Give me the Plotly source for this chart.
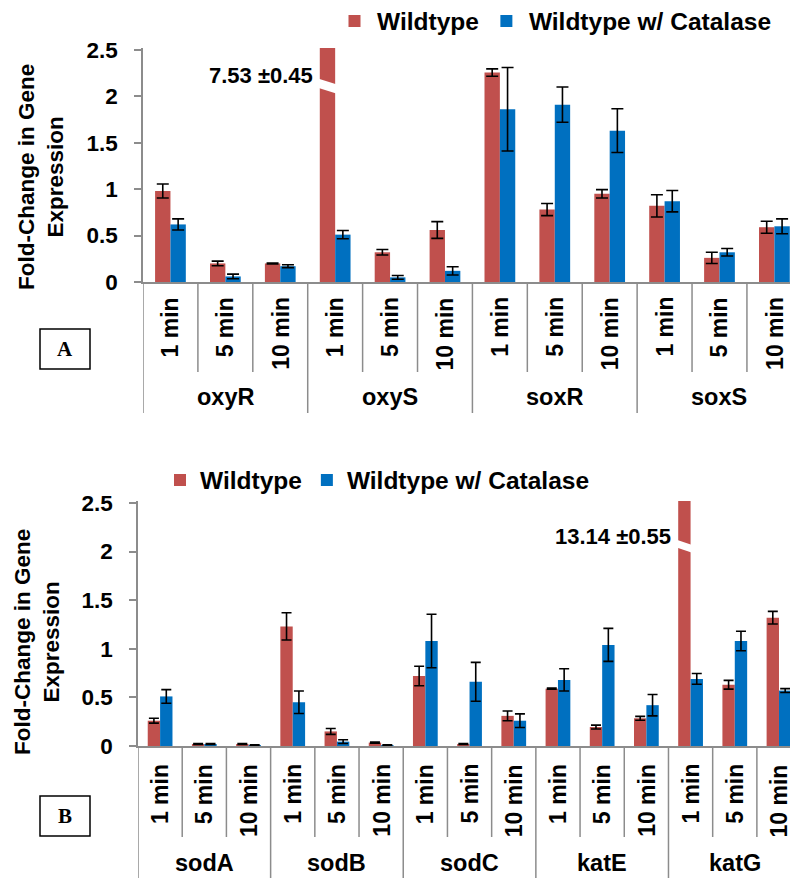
import plotly.graph_objects as go

# ---------------- data ----------------
times = ["1 min", "5 min", "10 min"]
tick_vals = [0, 0.5, 1, 1.5, 2, 2.5]
tick_text = ["0", "0.5", "1", "1.5", "2", "2.5"]

genes_A = ["oxyR", "oxyS", "soxR", "soxS"]
wt_A = [0.98, 0.20, 0.20, 7.53, 0.32, 0.56, 2.255, 0.78, 0.95, 0.82, 0.26, 0.59]
wt_A_err = [0.075, 0.025, 0.005, 0.45, 0.03, 0.09, 0.04, 0.065, 0.045, 0.12, 0.06, 0.065]
cat_A = [0.62, 0.06, 0.17, 0.51, 0.05, 0.12, 1.86, 1.91, 1.63, 0.87, 0.32, 0.60]
cat_A_err = [0.06, 0.025, 0.015, 0.045, 0.02, 0.045, 0.45, 0.19, 0.235, 0.115, 0.04, 0.08]

genes_B = ["sodA", "sodB", "sodC", "katE", "katG"]
wt_B = [0.26, 0.02, 0.02, 1.23, 0.15, 0.035, 0.72, 0.02, 0.31, 0.59, 0.195, 0.285, 13.14, 0.63, 1.32]
wt_B_err = [0.025, 0.005, 0.005, 0.14, 0.03, 0.005, 0.10, 0.005, 0.05, 0.005, 0.02, 0.02, 0.55, 0.045, 0.065]
cat_B = [0.51, 0.02, 0.01, 0.45, 0.045, 0.01, 1.08, 0.66, 0.26, 0.68, 1.04, 0.42, 0.69, 1.08, 0.57]
cat_B_err = [0.07, 0.005, 0.003, 0.115, 0.02, 0.003, 0.275, 0.20, 0.07, 0.115, 0.17, 0.11, 0.055, 0.10, 0.02]

broken_A = {"index": 3, "label": "7.53 ±0.45"}
broken_B = {"index": 12, "label": "13.14 ±0.55"}

series_names = ["Wildtype", "Wildtype w/ Catalase"]
RED = "#C0504D"
BLUE = "#0070C0"
GRAY = "#8C8C8C"
FONT = "Liberation Sans, Arial, sans-serif"

# the page body has an 8px margin, so the figure is drawn 8px in from the window corner
OFF = 8
W, H = 798 - OFF, 878 - OFF


def py(p):
    """window pixel row -> paper y"""
    return 1 - (p - OFF) / H


def px(p):
    """window pixel column -> paper x"""
    return (p - OFF) / W


fig = go.Figure()

panels = [
    dict(genes=genes_A, wt=wt_A, wte=wt_A_err, cat=cat_A, cate=cat_A_err, xa="x", ya="y",
         leg="legend", capw=6, broken=broken_A),
    dict(genes=genes_B, wt=wt_B, wte=wt_B_err, cat=cat_B, cate=cat_B_err, xa="x2", ya="y2",
         leg="legend2", capw=5, broken=broken_B),
]

for p in panels:
    idx = list(range(len(p["wt"])))
    fig.add_trace(go.Bar(
        x=idx, y=p["wt"], name=series_names[0], marker=dict(color=RED, line=dict(width=0)),
        error_y=dict(type="data", array=p["wte"], color="black", thickness=1.6, width=p["capw"]),
        xaxis=p["xa"], yaxis=p["ya"], legend=p["leg"]))
    fig.add_trace(go.Bar(
        x=idx, y=p["cat"], name=series_names[1], marker=dict(color=BLUE, line=dict(width=0)),
        error_y=dict(type="data", array=p["cate"], color="black", thickness=1.6, width=p["capw"]),
        xaxis=p["xa"], yaxis=p["ya"], legend=p["leg"]))

common_y = dict(range=[0, 2.52], tickvals=tick_vals, ticktext=tick_text, ticks="outside",
                ticklen=7, tickcolor=GRAY, tickwidth=1.5, showline=True, linecolor=GRAY,
                linewidth=1.5, showgrid=False, zeroline=False, ticklabelstandoff=12,
                tickfont=dict(family=FONT, size=22.5, color="black", weight="bold"))
common_x = dict(showticklabels=False, ticks="", showline=True, linecolor=GRAY, linewidth=1.5,
                showgrid=False, zeroline=False)

leg_font = dict(family=FONT, size=24.5, color="black", weight="bold")

fig.update_layout(
    width=W, height=H, margin=dict(l=0, r=0, t=0, b=0, autoexpand=False),
    paper_bgcolor="white", plot_bgcolor="white",
    barmode="group", bargap=0.44, bargroupgap=0,
    xaxis=dict(domain=[px(143), 1], range=[-0.5, 11.43], **common_x),
    yaxis=dict(domain=[py(282), py(48)], **common_y),
    xaxis2=dict(domain=[px(138), 1], range=[-0.5, 14.43], anchor="y2", **common_x),
    yaxis2=dict(domain=[py(746), py(501)], anchor="x2", **common_y),
    legend=dict(orientation="h", x=px(332), xanchor="left", y=py(21), yanchor="middle",
                font=leg_font, itemwidth=35, bgcolor="rgba(0,0,0,0)", itemclick=False),
    legend2=dict(orientation="h", x=px(160), xanchor="left", y=py(480), yanchor="middle",
                 font=leg_font, itemwidth=30, bgcolor="rgba(0,0,0,0)", itemclick=False),
    showlegend=True,
)

shapes = []
annotations = []

label_cfg = [
    dict(xa="x", n=len(wt_A), xmax=11.43, axis_y=282, inner_end=372, group_end=413,
         time_top=295, gene_y=397, title_x=41, title_y=177, box=(40, 329, 90, 369), letter="A"),
    dict(xa="x2", n=len(wt_B), xmax=14.43, axis_y=746, inner_end=837, group_end=878,
         time_top=762, gene_y=863, title_x=37, title_y=642, box=(40, 796, 90, 836), letter="B"),
]

for p, c in zip(panels, label_cfg):
    # category divider lines
    for i in range(c["n"] + 1):
        b = i - 0.5
        if b > c["xmax"]:
            continue
        end = c["group_end"] if i % 3 == 0 else c["inner_end"]
        shapes.append(dict(type="line", xref=c["xa"], yref="paper", x0=b, x1=b,
                           y0=py(c["axis_y"]), y1=py(end), line=dict(color=GRAY, width=1.5)))
    # time labels
    for i in range(c["n"]):
        annotations.append(dict(xref=c["xa"], yref="paper", x=i, y=py(c["time_top"]),
                                text=times[i % 3], textangle=-90, showarrow=False,
                                xanchor="center", yanchor="top",
                                font=dict(family=FONT, size=23, color="black", weight="bold")))
    # gene labels
    for g, gene in enumerate(p["genes"]):
        annotations.append(dict(xref=c["xa"], yref="paper", x=g * 3 + 1, y=py(c["gene_y"]),
                                text=gene, showarrow=False, xanchor="center", yanchor="middle",
                                font=dict(family=FONT, size=23.5, color="black", weight="bold")))
    # y-axis title
    annotations.append(dict(xref="paper", yref="paper", x=px(c["title_x"]), y=py(c["title_y"]),
                            text="Fold-Change in Gene<br>Expression", textangle=-90,
                            showarrow=False, xanchor="center", yanchor="middle",
                            font=dict(family=FONT, size=22.5, color="black", weight="bold")))
    # panel letter box
    x0, y0, x1, y1 = c["box"]
    shapes.append(dict(type="rect", xref="paper", yref="paper", x0=px(x0), x1=px(x1),
                       y0=py(y1), y1=py(y0), line=dict(color="black", width=1.5),
                       fillcolor="white"))
    annotations.append(dict(xref="paper", yref="paper", x=px((x0 + x1) / 2), y=py((y0 + y1) / 2),
                            text=c["letter"], showarrow=False, xanchor="center", yanchor="middle",
                            font=dict(family="Liberation Serif, Times New Roman, serif", size=21,
                                      color="black", weight="bold")))
    # axis break on the off-scale bar
    k = p["broken"]["index"]
    ya = "y" if c["xa"] == "x" else "y2"
    left, right = k - 0.30, k + 0.02
    if c["xa"] == "x":
        ytl, ytr, ybr, ybl = 2.19, 2.13, 2.03, 2.09
    else:
        ytl, ytr, ybr, ybl = 2.12, 2.07, 1.99, 2.04
    shapes.append(dict(type="path", xref=c["xa"], yref=ya,
                       path=f"M {left},{ytl} L {right},{ytr} L {right},{ybr} L {left},{ybl} Z",
                       fillcolor="white", line=dict(width=0), layer="above"))
    annotations.append(dict(xref=c["xa"], yref=ya, x=k - 0.28, y=(ytl + ybl) / 2 + 0.08,
                            text=p["broken"]["label"], showarrow=False, xanchor="right",
                            yanchor="middle", xshift=-5,
                            font=dict(family=FONT, size=22, color="black", weight="bold")))

fig.update_layout(shapes=shapes, annotations=annotations)
fig.write_html("out.html")
